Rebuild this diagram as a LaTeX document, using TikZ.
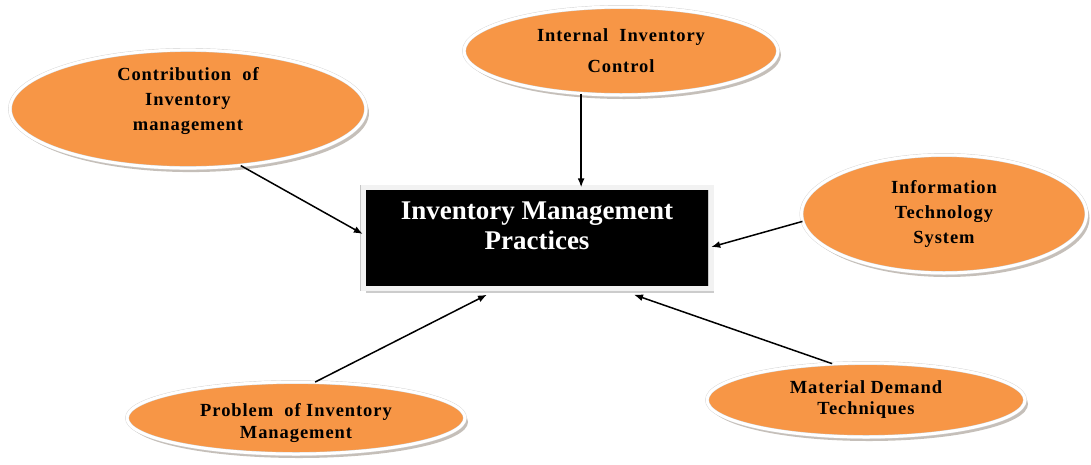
\documentclass[tikz,border=0pt]{standalone}
\usepackage{fontspec}
\setmainfont{Liberation Serif}
\newfontfamily\bubblefont[LetterSpace=5]{Liberation Serif}
\usetikzlibrary{shapes,arrows.meta,shadows}
\definecolor{bubbleorange}{RGB}{247,150,70}

\tikzset{
  bubble/.style={ellipse, draw=gray!35, double=white, double distance=3pt,
    fill=bubbleorange, inner sep=0pt, align=center,
    font=\bubblefont\bfseries\fontsize{18.5}{25}\selectfont,
    drop shadow={shadow xshift=3pt, shadow yshift=-4pt, fill=gray!80!brown, opacity=0.5}},
  practice/.style={rectangle, draw=gray!45, double=gray!10, double distance=5pt,
    fill=black, text=white, inner sep=0pt, align=center,
    font=\bfseries\fontsize{27}{30}\selectfont,
    drop shadow={shadow xshift=3pt, shadow yshift=-4pt, fill=gray, opacity=0.4}},
  link/.style={-{Latex[length=9pt,width=7pt]}, line width=1.5pt}
}

\begin{document}
\begin{tikzpicture}[x=1pt,y=-1pt]
\useasboundingbox (0,0) rectangle (1091,464);

%Centre box
\node[practice, minimum width=348pt, minimum height=101pt] (box) at (537,238)
  {Inventory Management\\Practices\\[-14pt]\strut};

%Bubbles
\node[bubble, minimum width=356pt, minimum height=118pt] (contrib) at (188,109)
  {Contribution\ \ of\\Inventory\\management\\[-12pt]\strut};
\node[bubble, minimum width=314pt, minimum height=88pt] (internal) at (621,51)
  {Internal\ \ Inventory\\[6pt]Control};
\node[bubble, minimum width=285pt, minimum height=118pt] (infotech) at (944,214)
  {Information\\Technology\\System};
\node[bubble, minimum width=338pt, minimum height=72pt] (problem) at (296,418)
  {\mbox{}\\[-2pt]Problem\ \ of Inventory\\[-3pt]Management};
\node[bubble, minimum width=318pt, minimum height=74pt] (material) at (866,400)
  {Material Demand\\[-4pt]Techniques};

%Links
\draw[link] (contrib.-47) -- ([yshift=4pt]box.west);
\draw[link] (internal.-133) -- (internal.-133 |- box.north);
\draw[link] (infotech.-177) -- ([yshift=-9pt]box.east);
\draw[link] (problem.62) -- ([xshift=-50pt,yshift=-6pt]box.south);
\draw[link] (material.133) -- ([xshift=97pt,yshift=-6pt]box.south);

\end{tikzpicture}
\end{document}
